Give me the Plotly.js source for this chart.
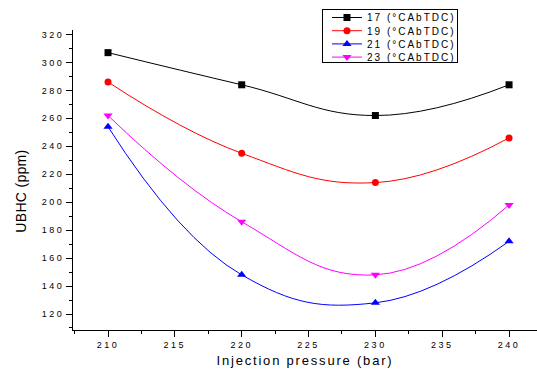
<!DOCTYPE html>
<html>
<head>
<meta charset="utf-8">
<script src="https://cdn.plot.ly/plotly-3.0.1.min.js"></script>
<style>
html,body{margin:0;padding:0;background:#fff;}
#chart{width:537px;height:373px;}
.xtick text{letter-spacing:2.5px;}
.ytick text{letter-spacing:2.5px;}
.legendtext{letter-spacing:2px;}
.g-xtitle text{letter-spacing:1.8px;}
.annotation text{letter-spacing:0.3px;}
</style>
</head>
<body>
<div id="chart"></div>
<script>
const pressure = [210, 220, 230, 240];
const seriesNames = ["17 (°CAbTDC)", "19 (°CAbTDC)", "21 (°CAbTDC)", "23 (°CAbTDC)"];
const ubhc17 = [307, 284, 262, 284];
const ubhc19 = [286, 235, 214, 246];
const ubhc21 = [254, 148, 128, 172];
const ubhc23 = [262, 186, 148, 198];
const xTicks = [210, 215, 220, 225, 230, 235, 240];
const yTicks = [120, 140, 160, 180, 200, 220, 240, 260, 280, 300, 320];

const colors = ["#000000", "#ff0000", "#0000ff", "#ff00ff"];
const symbols = ["square", "circle", "triangle-up", "triangle-down"];
const sizes = [7, 7, 8, 8];
const values = [ubhc17, ubhc19, ubhc21, ubhc23];

const traces = values.map((v, i) => ({
  x: pressure, y: v, name: seriesNames[i], type: "scatter", mode: "lines+markers",
  line: {color: colors[i], width: 1, shape: "spline", smoothing: 1.25},
  marker: {color: colors[i], symbol: symbols[i], size: sizes[i]}
}));

const fam = "Liberation Sans, Arial, sans-serif";
const layout = {
  width: 537, height: 373,
  margin: {l: 73, r: 0, t: 30, b: 43, pad: 0},
  paper_bgcolor: "#fff", plot_bgcolor: "#fff",
  showlegend: true,
  font: {family: fam, color: "#000"},
  xaxis: {
    range: [207.38, 242.09], tickvals: xTicks, ticktext: xTicks.map(String),
    ticks: "outside", ticklen: 6, tickwidth: 1, tickcolor: "#000",
    minor: {dtick: 2.5, tick0: 207.5, ticks: "outside", ticklen: 3, tickcolor: "#000", tickwidth: 1},
    showline: true, linecolor: "#000", linewidth: 1, showgrid: false, zeroline: false,
    tickfont: {family: fam, size: 9, color: "#000"},
    title: {text: "Injection pressure (bar)", font: {family: fam, size: 13, color: "#000"}, standoff: 7}
  },
  yaxis: {
    range: [108.55, 323.2], tickvals: yTicks, ticktext: yTicks.map(String),
    ticks: "outside", ticklen: 6, tickwidth: 1, tickcolor: "#000",
    minor: {dtick: 10, tick0: 110, ticks: "outside", ticklen: 3, tickcolor: "#000", tickwidth: 1},
    showline: true, linecolor: "#000", linewidth: 1, showgrid: false, zeroline: false,
    tickfont: {family: fam, size: 9, color: "#000"}
  },
  annotations: [{
    text: "UBHC (ppm)", xref: "paper", yref: "paper", x: -0.112, y: 0.463,
    xanchor: "center", yanchor: "middle", textangle: -90, showarrow: false,
    font: {family: fam, size: 14, color: "#000"}
  }],
  legend: {
    x: 0.5366, y: 1.07, xanchor: "left", yanchor: "top",
    bgcolor: "#fff", bordercolor: "#000", borderwidth: 1,
    font: {family: fam, size: 10, color: "#000"},
    tracegroupgap: 0, itemwidth: 30
  }
};
Plotly.newPlot("chart", traces, layout, {staticPlot: true, displayModeBar: false}).then(gd => {
  // compact legend rows to match the reference spacing
  const leg = gd.querySelector("g.legend");
  if (!leg) return;
  const items = leg.querySelectorAll("g.traces");
  items.forEach((g, i) => {
    g.setAttribute("transform", "translate(5," + (8.5 + i * 13.2) + ")");
  });
  const bg = leg.querySelector("rect.bg");
  if (bg) { bg.setAttribute("height", "53"); bg.setAttribute("width", "135"); }
});
</script>
</body>
</html>
